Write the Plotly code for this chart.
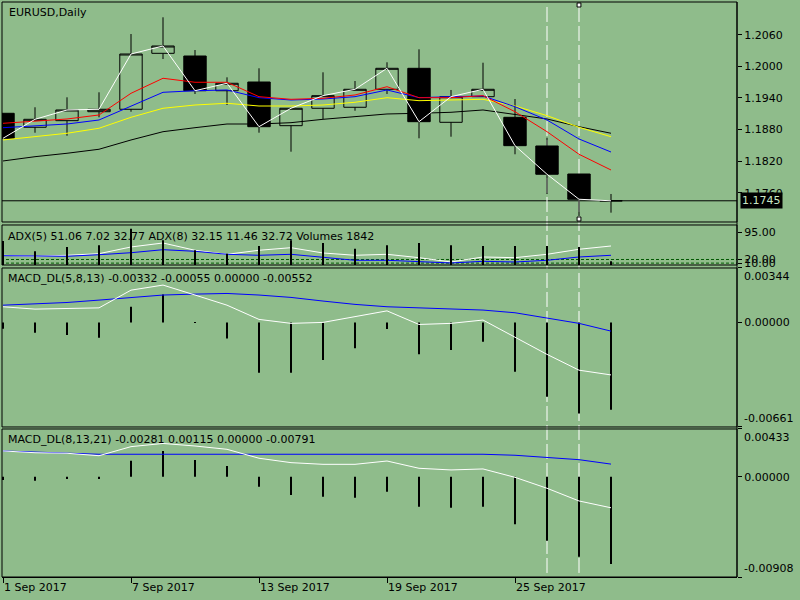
import datetime
import plotly.graph_objects as go

BG = '#8FBC8B'
FONT = 'DejaVu Sans'

# daily bars, EURUSD
days = ['2017-09-01', '2017-09-04', '2017-09-05', '2017-09-06', '2017-09-07',
        '2017-09-08', '2017-09-11', '2017-09-12', '2017-09-13', '2017-09-14',
        '2017-09-15', '2017-09-18', '2017-09-19', '2017-09-20', '2017-09-21',
        '2017-09-22', '2017-09-25', '2017-09-26', '2017-09-27', '2017-09-28']
tick_days = ['2017-09-01', '2017-09-07', '2017-09-13', '2017-09-19', '2017-09-25']
marked_days = ['2017-09-26', '2017-09-27']

opens = [1.19109, 1.18844, 1.18969, 1.19139, 1.19185, 1.20246, 1.20195, 1.19537, 1.19702, 1.18874,
         1.19204, 1.19223, 1.19564, 1.19962, 1.18938, 1.19424, 1.19033, 1.18489, 1.17958, 1.17450]
highs = [1.19109, 1.19223, 1.19412, 1.19507, 1.20612, 1.20929, 1.20309, 1.19791, 1.19962, 1.19204,
         1.19886, 1.19721, 1.20076, 1.20322, 1.19551, 1.20068, 1.19380, 1.18646, 1.17958, 1.17579]
lows = [1.18635, 1.18741, 1.18684, 1.19033, 1.19139, 1.20138, 1.19475, 1.19266, 1.18741, 1.18381,
        1.19001, 1.19158, 1.19475, 1.18635, 1.18665, 1.19424, 1.18332, 1.17579, 1.17162, 1.17225]
closes = [1.18635, 1.18995, 1.19172, 1.19185, 1.20233, 1.20385, 1.19537, 1.19678, 1.18855, 1.19204,
          1.19443, 1.19564, 1.19962, 1.18950, 1.19424, 1.19564, 1.18495, 1.17953, 1.17479, 1.17450]

ma_red = [1.18919, 1.18963, 1.19001, 1.19077, 1.19488, 1.19773, 1.19697, 1.19697, 1.19424, 1.19374,
          1.19393, 1.19456, 1.19613, 1.19405, 1.19405, 1.19443, 1.19139, 1.18760, 1.18332, 1.18034]
ma_blue = [1.18836, 1.18868, 1.18906, 1.18982, 1.19247, 1.19507, 1.19537, 1.19551, 1.19405, 1.19361,
           1.19380, 1.19424, 1.19551, 1.19405, 1.19424, 1.19437, 1.19234, 1.18982, 1.18622, 1.18375]
ma_yellow = [1.18603, 1.18665, 1.18730, 1.18825, 1.19033, 1.19204, 1.19266, 1.19299, 1.19247, 1.19247,
             1.19266, 1.19318, 1.19405, 1.19348, 1.19361, 1.19374, 1.19247, 1.19064, 1.18844, 1.18665]
ma_black = [1.18205, 1.18286, 1.18351, 1.18427, 1.18603, 1.18760, 1.18836, 1.18906, 1.18906, 1.18931,
            1.18995, 1.19045, 1.19096, 1.19109, 1.19128, 1.19172, 1.19090, 1.19001, 1.18855, 1.18730]

# ADX window
adx_white = [31.6, 28.8, 31.6, 36.0, 54.5, 65.5, 45.4, 34.3, 45.4, 52.5,
             37.9, 31.6, 34.3, 25.0, 13.1, 26.9, 25.0, 34.3, 48.1, 57.2]
adx_blue = [30.5, 28.8, 28.8, 33.2, 38.7, 47.0, 42.6, 34.3, 31.6, 34.3,
            26.9, 17.8, 17.8, 15.0, 10.4, 15.0, 13.1, 17.8, 26.9, 31.6]
adx_levels = [20, 10]
adx_top = 95
volumes = [12000, 6820, 8960, 9800, 18070, 12300, 7320, 5630, 9460, 12300,
           10950, 8110, 9800, 10950, 9800, 9460, 9460, 9460, 8960, 1842]

# MACD_DL(5,8,13)
m1_white = [0.00099, 0.00084, 0.00088, 0.00092, 0.00204, 0.00236, 0.00173, 0.00109, 0.00019, -0.00006,
            0.00000, 0.00035, 0.00073, -0.00013, -0.00006, 0.00015, -0.00091, -0.00202, -0.00302, -0.00332]
m1_blue = [0.00109, 0.00116, 0.00126, 0.00141, 0.00158, 0.00173, 0.00179, 0.00183, 0.00173, 0.00158,
           0.00135, 0.00114, 0.00099, 0.00092, 0.00088, 0.00078, 0.00061, 0.00029, -0.00006, -0.00055]
m1_hist = [-0.00040, -0.00066, -0.00080, -0.00097, 0.00099, 0.00177, -0.00002, -0.00101, -0.00319, -0.00319,
           -0.00238, -0.00164, -0.00042, -0.00202, -0.00175, -0.00123, -0.00312, -0.00470, -0.00575, -0.00552]
m1_max, m1_min = 0.00344, -0.00661

# MACD_DL(8,13,21)
m2_white = [0.00234, 0.00218, 0.00213, 0.00191, 0.00273, 0.00302, 0.00279, 0.00249, 0.00168, 0.00128,
            0.00113, 0.00113, 0.00143, 0.00077, 0.00062, 0.00071, -0.00005, -0.00104, -0.00219, -0.00281]
m2_blue = [0.00234, 0.00222, 0.00213, 0.00204, 0.00204, 0.00204, 0.00204, 0.00204, 0.00204, 0.00204,
           0.00204, 0.00204, 0.00204, 0.00204, 0.00204, 0.00204, 0.00195, 0.00177, 0.00155, 0.00115]
m2_hist = [-0.00030, -0.00036, -0.00021, -0.00021, 0.00145, 0.00233, 0.00151, 0.00097, -0.00091, -0.00166,
           -0.00181, -0.00190, -0.00136, -0.00272, -0.00281, -0.00272, -0.00429, -0.00580, -0.00725, -0.00791]
m2_max, m2_min = 0.00433, -0.00908

x = list(range(len(days)))
tickvals = [days.index(d) for d in tick_days]
ticktext = [datetime.date.fromisoformat(d).strftime('%-d %b %Y') for d in tick_days]
adx_ticks = [adx_top] + adx_levels

# panel domains (paper)
D_MAIN = [0.6174, 1.0]
D_ADX = [0.5426, 0.6122]
D_M1 = [0.2609, 0.5374]
D_M2 = [0.0, 0.2574]

fig = go.Figure()

fig.add_trace(go.Candlestick(
    x=x, open=opens, high=highs, low=lows, close=closes,
    increasing=dict(line=dict(color='black', width=1), fillcolor=BG),
    decreasing=dict(line=dict(color='black', width=1), fillcolor='black'),
    whiskerwidth=0, hoverinfo='skip', showlegend=False, yaxis='y'))

for vals, col in [(ma_black, 'black'), (ma_yellow, '#FFFF00'), (ma_blue, '#0000FF'),
                  (ma_red, '#FF0000'), (closes, 'white')]:
    fig.add_trace(go.Scatter(x=x, y=vals, mode='lines', line=dict(color=col, width=1),
                             showlegend=False, hoverinfo='skip', yaxis='y'))

# ADX + volumes
fig.add_trace(go.Bar(x=x, y=volumes, width=0.05, marker=dict(color='black', line=dict(width=0)),
                     showlegend=False, hoverinfo='skip', yaxis='y5'))
for lv in adx_levels:
    fig.add_trace(go.Scatter(x=[x[0] - 1, x[-1] + 5], y=[lv, lv], mode='lines',
                             line=dict(color='#005A00', width=1, dash='3px,2px'),
                             showlegend=False, hoverinfo='skip', yaxis='y2'))
fig.add_trace(go.Scatter(x=x, y=adx_white, mode='lines', line=dict(color='white', width=1),
                         showlegend=False, hoverinfo='skip', yaxis='y2'))
fig.add_trace(go.Scatter(x=x, y=adx_blue, mode='lines', line=dict(color='#0000FF', width=1),
                         showlegend=False, hoverinfo='skip', yaxis='y2'))

# MACD panels
for hist, white, blue, ax in [(m1_hist, m1_white, m1_blue, 'y3'), (m2_hist, m2_white, m2_blue, 'y4')]:
    fig.add_trace(go.Bar(x=x, y=hist, width=0.05, marker=dict(color='black', line=dict(width=0)),
                         showlegend=False, hoverinfo='skip', yaxis=ax))
    fig.add_trace(go.Scatter(x=x, y=blue, mode='lines', line=dict(color='#0000FF', width=1),
                             showlegend=False, hoverinfo='skip', yaxis=ax))
    fig.add_trace(go.Scatter(x=x, y=white, mode='lines', line=dict(color='white', width=1),
                             showlegend=False, hoverinfo='skip', yaxis=ax))

tickfont = dict(family=FONT, size=11, color='black')
yax_common = dict(side='right', anchor='x', showgrid=False, zeroline=False, showline=False,
                  ticks='outside', ticklen=4, tickcolor='black', tickfont=tickfont, fixedrange=True)

fig.update_layout(
    width=800, height=600,
    margin=dict(l=2, r=63, t=2, b=23),
    paper_bgcolor=BG, plot_bgcolor=BG,
    barmode='overlay', showlegend=False,
    boxgap=0.3, boxgroupgap=0,
    xaxis=dict(anchor='y4', domain=[0, 1], range=[-0.03125, 22.9375],
               tickvals=tickvals, ticktext=ticktext, ticks='outside', ticklen=5,
               tickcolor='black', tickfont=tickfont, ticklabelposition='outside right',
               showgrid=False, zeroline=False, showline=True, linecolor='black',
               rangeslider=dict(visible=False), fixedrange=True),
    yaxis=dict(domain=D_MAIN, range=[1.17048, 1.21219],
               tickvals=[1.1760, 1.1820, 1.1880, 1.1940, 1.2000, 1.2060], tickformat='.4f', **yax_common),
    yaxis2=dict(domain=D_ADX, range=[4.8, 115.1], tickvals=adx_ticks,
                ticktext=[f'{v:.2f}' for v in adx_ticks], **yax_common),
    yaxis5=dict(overlaying='y2', range=[0, 19900], visible=False, side='right', anchor='x'),
    yaxis3=dict(domain=D_M1, range=[m1_min, m1_max], tickvals=[m1_max, 0, m1_min],
                ticktext=['', '0.00000', ''], **yax_common),
    yaxis4=dict(domain=D_M2, range=[m2_min, m2_max], tickvals=[m2_max, 0, m2_min],
                ticktext=['', '0.00000', ''], **yax_common),
)

shapes = []
for d in [D_MAIN, D_ADX, D_M1, D_M2]:
    shapes.append(dict(type='rect', xref='paper', yref='paper', x0=0, x1=1, y0=d[0], y1=d[1],
                       line=dict(color='black', width=1), layer='above'))
shapes.append(dict(type='line', xref='paper', yref='paper', x0=1, x1=1, y0=0, y1=1,
                   line=dict(color='black', width=1)))
# bid line
shapes.append(dict(type='line', xref='paper', yref='y', x0=0, x1=1, y0=closes[-1], y1=closes[-1],
                   line=dict(color='black', width=1), layer='below'))
for d in marked_days:
    xi = days.index(d)
    shapes.append(dict(type='line', xref='x', yref='paper', x0=xi, x1=xi, y0=0.007, y1=0.998,
                       line=dict(color='white', width=1, dash='15px,4px'), layer='below'))
# selection handles on the last marked line
xi = days.index(marked_days[-1])
for yc in [0.9948, 0.6226]:
    shapes.append(dict(type='rect', xref='x', yref='paper', x0=xi - 0.06, x1=xi + 0.06,
                       y0=yc - 0.0035, y1=yc + 0.0035, fillcolor='white',
                       line=dict(color='black', width=1), layer='above'))
fig.update_layout(shapes=shapes)

lab = dict(family=FONT, size=11, color='black')
annotations = [
    dict(xref='paper', yref='paper', x=0.0068, y=0.9826, text='EURUSD,Daily'),
    dict(xref='paper', yref='paper', x=0.0054, y=0.5930,
         text=f'ADX(5) 51.06 7.02 32.77 ADX(8) 32.15 11.46 32.72 Volumes {volumes[-1]}'),
    dict(xref='paper', yref='paper', x=0.0054, y=0.5183,
         text=f'MACD_DL(5,8,13) {m1_white[-1]:.5f} {m1_blue[-1]:.5f} 0.00000 {m1_hist[-1]:.5f}'),
    dict(xref='paper', yref='paper', x=0.0054, y=0.2400,
         text=f'MACD_DL(8,13,21) {m2_white[-1]:.5f} {m2_blue[-1]:.5f} 0.00000 {m2_hist[-1]:.5f}'),
]
for a in annotations:
    a.update(xanchor='left', yanchor='middle', showarrow=False, font=lab)

for ax, vmax, vmin in [('y3', m1_max, m1_min), ('y4', m2_max, m2_min)]:
    annotations.append(dict(xref='paper', yref=ax, x=1, y=vmax, xshift=5, text=f'{vmax:.5f}',
                            xanchor='left', yanchor='top', showarrow=False, font=lab))
    annotations.append(dict(xref='paper', yref=ax, x=1, y=vmin, xshift=5, text=f'{vmin:.5f}',
                            xanchor='left', yanchor='bottom', showarrow=False, font=lab))

# bid price box
annotations.append(dict(xref='paper', yref='y', x=1, y=closes[-1], xshift=3, text=f'{closes[-1]:.4f}',
                        xanchor='left', yanchor='middle', showarrow=False, bgcolor='black',
                        borderpad=1, font=dict(family=FONT, size=11, color='#C8E6C4')))
fig.update_layout(annotations=annotations)

# the page has a default body margin; drop it so the chart sits at the window corner
fig.write_html('out.html', config={'displayModeBar': False},
               post_script="document.body.style.margin='0';")
